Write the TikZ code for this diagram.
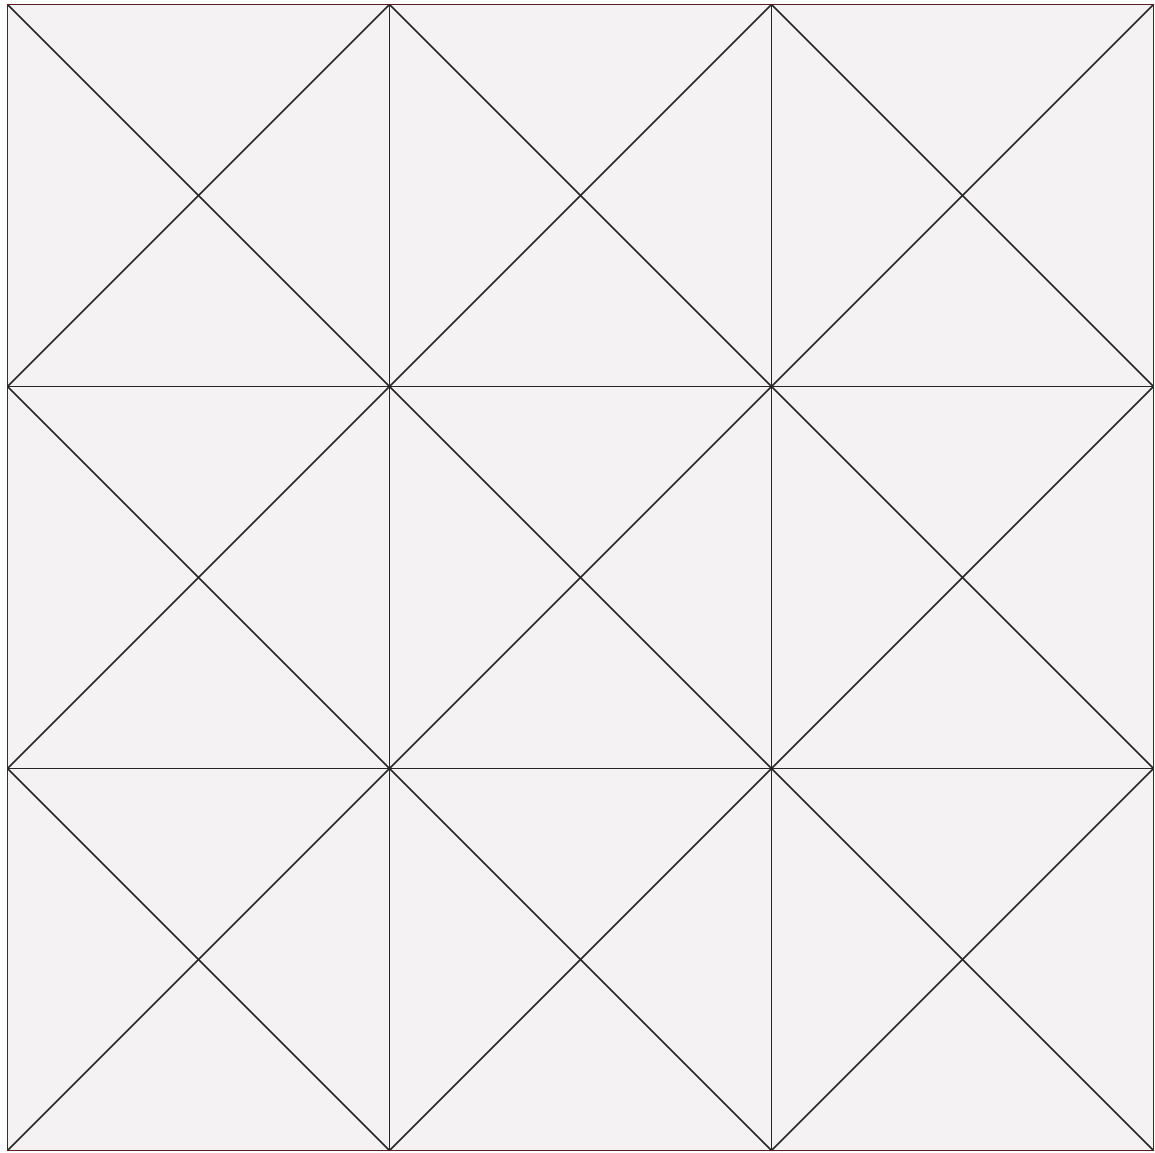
\documentclass[tikz,border=0pt]{standalone}
\begin{document}
\begin{tikzpicture}[x=0.5pt,y=-0.5pt,
  gridline/.style={draw=black!85,line width=0.8pt},
  frame/.style={draw={rgb,255:red,90;green,30;blue,30},line width=0.8pt,fill={rgb,255:red,245;green,242;blue,243}}]
\useasboundingbox (0,0) rectangle (1155,1152);
\path[frame] (7.5,4.5) rectangle (1153.5,1150.5);
\foreach \i in {0,1,2}{
  \foreach \j in {0,1,2}{
    \pgfmathsetmacro{\xa}{7.5+382*\i}
    \pgfmathsetmacro{\xb}{7.5+382*(\i+1)}
    \pgfmathsetmacro{\ya}{4.5+382*\j}
    \pgfmathsetmacro{\yb}{4.5+382*(\j+1)}
    \coordinate (a\i\j) at (\xa,\ya);
    \coordinate (b\i\j) at (\xb,\ya);
    \coordinate (c\i\j) at (\xb,\yb);
    \coordinate (d\i\j) at (\xa,\yb);
    \draw[gridline] (a\i\j) -- (c\i\j);
    \draw[gridline] (b\i\j) -- (d\i\j);
  }
}
\foreach \k in {1,2}{
  \pgfmathsetmacro{\p}{7.5+382*\k}
  \pgfmathsetmacro{\q}{4.5+382*\k}
  \coordinate (vt\k) at (\p,4.5);
  \coordinate (vb\k) at (\p,1150.5);
  \coordinate (hl\k) at (7.5,\q);
  \coordinate (hr\k) at (1153.5,\q);
  \draw[gridline] (vt\k) -- (vb\k);
  \draw[gridline] (hl\k) -- (hr\k);
}
\draw[draw={rgb,255:red,90;green,30;blue,30},line width=0.8pt] (7.5,4.5) rectangle (1153.5,1150.5);
\end{tikzpicture}
\end{document}
